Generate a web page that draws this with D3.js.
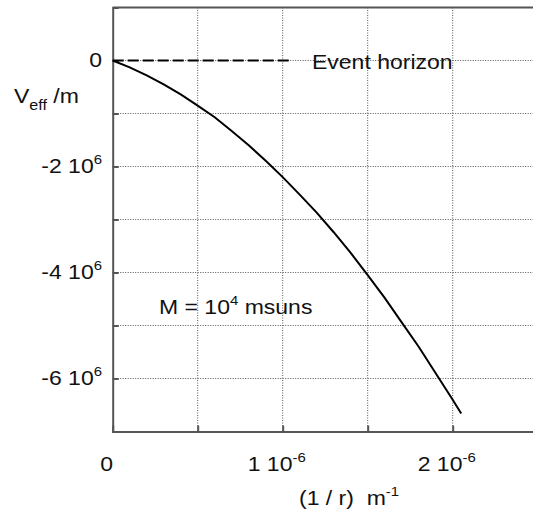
<!DOCTYPE html>
<html>
<head>
<meta charset="utf-8">
<title>Veff</title>
<script src="https://cdnjs.cloudflare.com/ajax/libs/d3/7.8.5/d3.min.js"></script>
<style>
  body { margin: 0; background: #fff; }
  text { font-family: "Liberation Sans", Arial, sans-serif; fill: #111; white-space: pre; }
</style>
</head>
<body>
<div id="chart"></div>
<script>
// 1/r in units of 1e-6 m^-1, Veff/m in units of 1e6
var invR = [0, 0.1, 0.2, 0.3, 0.4, 0.5, 0.6, 0.7, 0.8, 0.9, 1.0, 1.1, 1.2, 1.3, 1.4, 1.5, 1.6, 1.7, 1.8, 1.9, 2.0, 2.05];
var veff = [0, -0.13, -0.28, -0.45, -0.64, -0.85, -1.07, -1.33, -1.60, -1.89, -2.2, -2.53, -2.87, -3.24, -3.63, -4.05, -4.48, -4.94, -5.40, -5.9, -6.4, -6.66];
var horizon = [[0, 0], [1.05, 0]];
var xTicks = [0, 1, 2];
var xTickText = [["0", ""], ["1 10", "-6"], ["2 10", "-6"]];
var yTicks = [0, -2, -4, -6];
var yTickText = [["0", ""], ["-2 10", "6"], ["-4 10", "6"], ["-6 10", "6"]];

var w = 533, h = 512, sx = 1.15;

var x = d3.scaleLinear().domain([0, 2.5]).range([112.7, 537.7]);
var y = d3.scaleLinear().domain([-7, 1]).range([431.5, 7.5]);

var svg = d3.select('#chart').append('svg').attr('width', w).attr('height', h);

// dotted grid
svg.append('g').selectAll('line')
    .data(d3.range(0.5, 2.51, 0.5))
    .enter().append('line')
    .attr('x1', function(d){ return x(d); }).attr('x2', function(d){ return x(d); })
    .attr('y1', y(1)).attr('y2', y(-7))
    .attr('stroke', '#555').attr('stroke-width', 1).attr('stroke-dasharray', '1,1.5');
svg.append('g').selectAll('line')
    .data(d3.range(-6, 0.5, 1))
    .enter().append('line')
    .attr('x1', x(0)).attr('x2', x(2.5))
    .attr('y1', function(d){ return y(d); }).attr('y2', function(d){ return y(d); })
    .attr('stroke', '#555').attr('stroke-width', 1).attr('stroke-dasharray', '1,1.5');

// axes with inward ticks
svg.append('g').attr('transform', 'translate(0,' + y(-7) + ')')
    .call(d3.axisTop(x).tickValues(d3.range(0.5, 2.51, 0.5)).tickSize(6).tickFormat(''))
    .call(function(g){ g.selectAll('path,line').attr('stroke', '#555').attr('stroke-width', 2); });
svg.append('g').attr('transform', 'translate(' + x(0) + ',0)')
    .call(d3.axisRight(y).tickValues(d3.range(-6, 0.5, 1)).tickSize(6).tickFormat(''))
    .call(function(g){ g.selectAll('path,line').attr('stroke', '#555').attr('stroke-width', 2); });
svg.append('line')
    .attr('x1', x(0)).attr('x2', x(2.5)).attr('y1', y(1)).attr('y2', y(1))
    .attr('stroke', '#555').attr('stroke-width', 2);

// text helper: base text plus optional super/subscript
function label(px, py, main, extra, anchor, dy, after, es) {
    var t = svg.append('text')
        .attr('transform', 'translate(' + px + ',' + py + ') scale(' + sx + ',1)')
        .attr('text-anchor', anchor || 'start')
        .attr('font-size', 20);
    t.append('tspan').text(main);
    if (extra) t.append('tspan').attr('font-size', es || 13).attr('dy', dy).text(extra);
    if (after) t.append('tspan').attr('dy', -dy).text(after);
    return t;
}

yTicks.forEach(function(v, i){
    label(102, y(v) + 6, yTickText[i][0], yTickText[i][1], 'end', -9);
});
xTicks.forEach(function(v, i){
    label(x(v) - 6, 471, xTickText[i][0], xTickText[i][1], 'middle', -9);
});

label(14, 103, 'V', 'eff', 'start', 7, ' /m', 14);
label(299, 505, '(1 / r)  m', '-1', 'start', -9);
label(312, 69, 'Event horizon', '', 'start');
label(159, 314, 'M = 10', '4', 'start', -9, ' msuns');

// event horizon dashed line
var line = d3.line().x(function(d){ return x(d[0]); }).y(function(d){ return y(d[1]); });
svg.append('path').datum(horizon)
    .attr('d', line).attr('fill', 'none')
    .attr('stroke', '#000').attr('stroke-width', 1.8).attr('stroke-dasharray', '11,4');

// potential curve
svg.append('path').datum(invR.map(function(d, i){ return [d, veff[i]]; }))
    .attr('d', line).attr('fill', 'none')
    .attr('stroke', '#000').attr('stroke-width', 2);
</script>
</body>
</html>
